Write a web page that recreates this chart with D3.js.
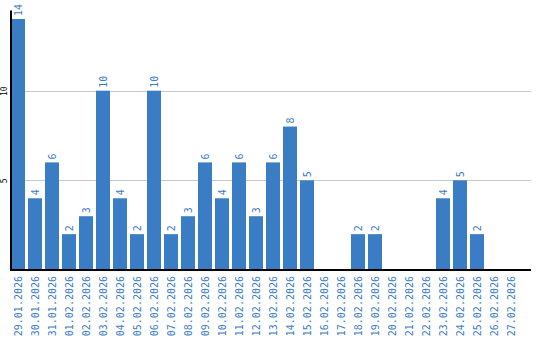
<!DOCTYPE html>
<html>
<head>
<meta charset="utf-8">
<script src="https://cdn.jsdelivr.net/npm/d3@7"></script>
<style>
  body { margin: 0; background: #fff; }
  svg { display: block; font-family: 'DejaVu Sans Mono', monospace; }
</style>
</head>
<body>
<div class="canvas"></div>
<script>
const dates = [
  '29.01.2026', '30.01.2026', '31.01.2026', '01.02.2026', '02.02.2026',
  '03.02.2026', '04.02.2026', '05.02.2026', '06.02.2026', '07.02.2026',
  '08.02.2026', '09.02.2026', '10.02.2026', '11.02.2026', '12.02.2026',
  '13.02.2026', '14.02.2026', '15.02.2026', '16.02.2026', '17.02.2026',
  '18.02.2026', '19.02.2026', '20.02.2026', '21.02.2026', '22.02.2026',
  '23.02.2026', '24.02.2026', '25.02.2026', '26.02.2026', '27.02.2026'
]
const counts = [
  14, 4, 6, 2, 3, 10, 4, 2, 10, 2,
  3, 6, 4, 6, 3, 6, 8, 5, 0, 0,
  2, 2, 0, 0, 0, 4, 5, 2, 0, 0
]
const yTicks = [5, 10]

const width = 540
const height = 340
const margin = {top: 10, right: 9, bottom: 70, left: 11}
const blue = '#3a7dc4'

const svg = d3.select('.canvas')
  .append('svg')
  .attr('width', width)
  .attr('height', height)

// 17px per day, 14px bars
const x = d3.scaleBand()
  .domain(dates)
  .range([margin.left - 1.5, margin.left - 1.5 + 17 * dates.length])
  .paddingInner(0.176)
  .paddingOuter(0.088)

const y = d3.scaleLinear()
  .domain([0, 14.5])
  .range([height - margin.bottom, margin.top])

// gridlines
svg.append('g')
  .selectAll('line')
  .data(yTicks)
  .join('line')
  .attr('x1', margin.left)
  .attr('x2', width - margin.right)
  .attr('y1', d => Math.round(y(d)) + 0.5)
  .attr('y2', d => Math.round(y(d)) + 0.5)
  .attr('stroke', '#c8c8c8')

const rows = counts.map((v, i) => ({date: dates[i], value: v}))

// bars
svg.append('g')
  .selectAll('rect')
  .data(rows)
  .join('rect')
  .attr('x', d => x(d.date))
  .attr('width', x.bandwidth())
  .attr('y', d => y(d.value))
  .attr('height', d => y(0) - y(d.value))
  .attr('fill', blue)

// value labels
svg.append('g')
  .selectAll('text')
  .data(rows.filter(d => d.value > 0))
  .join('text')
  .attr('transform', d => `translate(${x(d.date) + x.bandwidth() / 2 + 3.5}, ${y(d.value) - 3}) rotate(-90)`)
  .attr('font-size', 10)
  .attr('fill', blue)
  .text(d => d.value)

// y axis
const yAxis = svg.append('g')
  .attr('transform', `translate(${margin.left - 0.5}, 0)`)
  .call(d3.axisLeft(y).tickValues(yTicks).tickSize(0).tickPadding(0))
yAxis.select('.domain').attr('stroke', '#000').attr('stroke-width', 2)
yAxis.selectAll('text')
  .attr('transform', 'translate(-4, 0) rotate(-90)')
  .attr('x', 0).attr('y', 0).attr('dy', 0)
  .attr('text-anchor', 'middle')
  .attr('font-size', 8)
  .attr('font-family', 'DejaVu Sans Mono, monospace')
  .attr('fill', '#000')

// x axis
const xAxis = svg.append('g')
  .attr('transform', `translate(0, ${height - margin.bottom})`)
  .call(d3.axisBottom(x).tickSize(0).tickPadding(0))
xAxis.select('.domain').attr('stroke', '#000').attr('stroke-width', 2)
  .attr('d', `M${margin.left - 1},0H${width - margin.right}`)
xAxis.selectAll('text')
  .attr('transform', 'translate(3.5, 6) rotate(-90)')
  .attr('x', 0).attr('y', 0).attr('dy', 0)
  .attr('text-anchor', 'end')
  .attr('font-size', 10)
  .attr('font-family', 'DejaVu Sans Mono, monospace')
  .attr('fill', blue)
</script>
</body>
</html>
